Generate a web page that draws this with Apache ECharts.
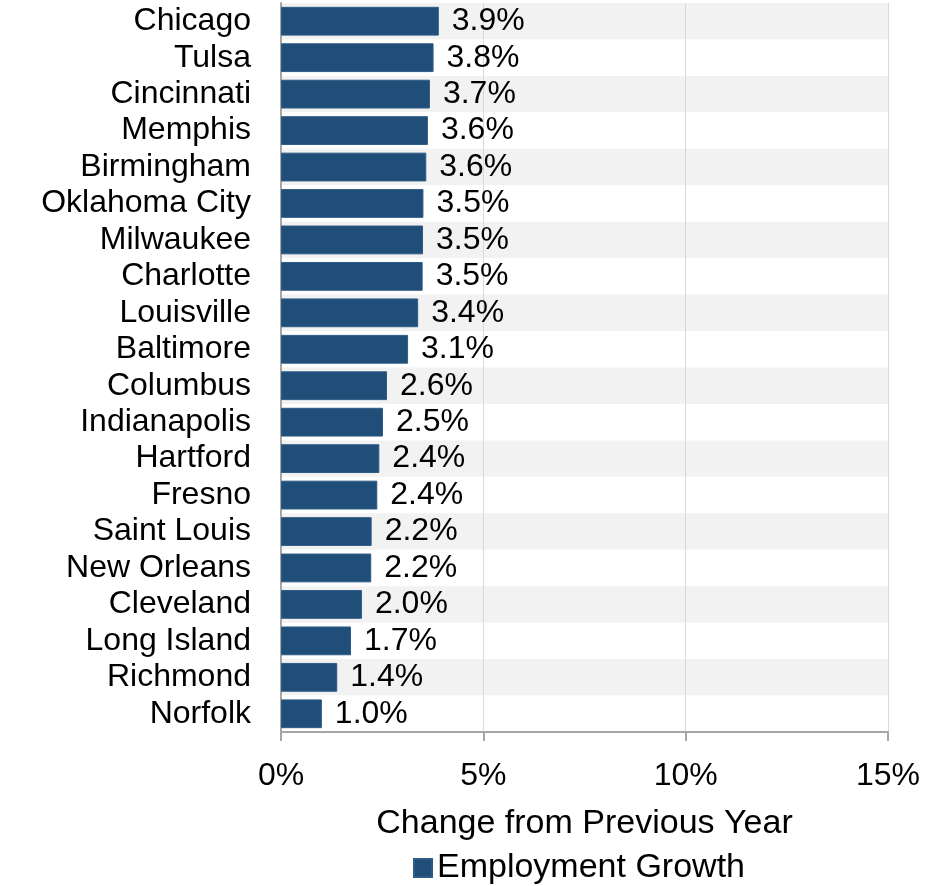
<!DOCTYPE html>
<html><head><meta charset="utf-8">
<script src="https://cdn.jsdelivr.net/npm/echarts@6/dist/echarts.min.js"></script>
<style>html,body{margin:0;padding:0;background:#fff}#c{width:936px;height:886px}</style>
</head><body><div id="c"></div>
<script>
var cities = ["Chicago","Tulsa","Cincinnati","Memphis","Birmingham","Oklahoma City","Milwaukee","Charlotte","Louisville","Baltimore","Columbus","Indianapolis","Hartford","Fresno","Saint Louis","New Orleans","Cleveland","Long Island","Richmond","Norfolk"];
var growth = [3.9,3.77,3.68,3.63,3.59,3.52,3.51,3.5,3.39,3.14,2.62,2.52,2.43,2.38,2.24,2.23,2.0,1.73,1.39,1.01];
var xTicks = [0,5,10,15];
var seriesName = "Employment Growth";
var axisTitle = "Change from Previous Year";

var chart = echarts.init(document.getElementById('c'), null, {renderer:'canvas'});
var font = "Liberation Sans, Arial, sans-serif";
chart.setOption({
  animation:false,
  textStyle:{fontFamily:font},
  grid:{left:281,right:48,top:3,bottom:154},
  legend:{
    top:846,left:408,
    data:[seriesName],
    icon:'rect',itemWidth:18,itemHeight:18,itemGap:8,
    textStyle:{fontFamily:font,fontSize:34,color:'#000'}
  },
  xAxis:{
    type:'value',min:xTicks[0],max:xTicks[xTicks.length-1],interval:5,
    name:axisTitle,nameLocation:'middle',nameGap:75,
    nameTextStyle:{fontFamily:font,fontSize:34,color:'#000'},
    axisLine:{show:true,lineStyle:{color:'#a6a6a6',width:2}},
    axisTick:{show:true,length:9,lineStyle:{color:'#a6a6a6',width:2}},
    axisLabel:{formatter:'{value}%',fontFamily:font,fontSize:32,color:'#000',margin:28},
    splitLine:{show:true,lineStyle:{color:'#d9d9d9',width:1}}
  },
  yAxis:{
    type:'category',data:cities,inverse:true,
    axisLine:{show:true,lineStyle:{color:'#a6a6a6',width:2}},
    axisTick:{show:false},
    axisLabel:{interval:0,fontFamily:font,fontSize:32,color:'#000',margin:30},
    splitArea:{show:true,interval:0,areaStyle:{color:['#f2f2f2','#ffffff']}}
  },
  series:[{
    name:seriesName,type:'bar',data:growth,
    barCategoryGap:'21%',
    itemStyle:{color:'#1f4e79',borderColor:'#2f5b86',borderWidth:1},
    label:{show:true,position:'right',distance:13,fontFamily:font,fontSize:32,color:'#000',
      formatter:function(p){return p.value.toFixed(1)+'%';}}
  }]
});
</script></body></html>
